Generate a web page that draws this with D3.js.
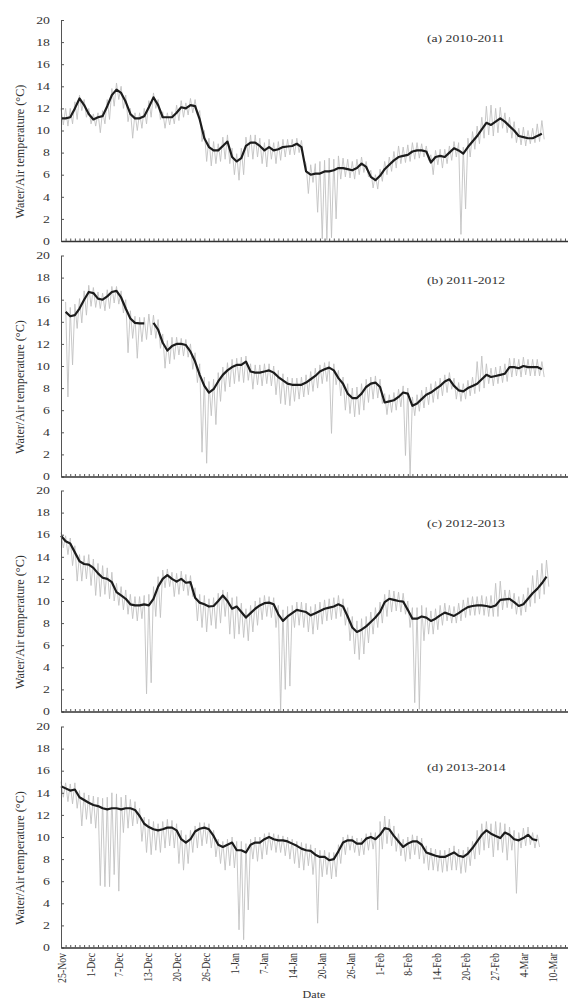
<!DOCTYPE html>
<html>
<head>
<meta charset="utf-8">
<script src="https://cdn.jsdelivr.net/npm/d3@7"></script>
<style>
  html, body { margin: 0; padding: 0; background: #fff; }
  svg { display: block; }
  text { font-family: "Liberation Serif", "DejaVu Serif", serif; fill: #333; }
</style>
</head>
<body>
<svg id="chart" width="568" height="999"></svg>
<script>
// Axis labels and panel titles
const tickLabels = ["25-Nov", "1-Dec", "7-Dec", "13-Dec", "20-Dec", "26-Dec", "1-Jan", "7-Jan",
  "14-Jan", "20-Jan", "26-Jan", "1-Feb", "8-Feb", "14-Feb", "20-Feb", "27-Feb", "4-Mar", "10-Mar"];
const labelStepDays = 6.25;          // one date label every 150 hours
const yTicks = [0, 2, 4, 6, 8, 10, 12, 14, 16, 18, 20];
const panelTitles = ["(a) 2010-2011", "(b) 2011-2012", "(c) 2012-2013", "(d) 2013-2014"];

// Daily water temperature (°C), day 0 = 25 Nov
const waterA = [11.1, 11.1, 11.2, 12.0, 12.9, 12.3, 11.5, 11.0, 11.2, 11.3, 12.2, 13.2, 13.7, 13.4, 12.6, 11.5,
  11.1, 11.1, 11.3, 12.1, 13.0, 12.3, 11.2, 11.2, 11.2, 11.6, 12.1, 12.0, 12.3, 12.2, 11.0, 9.3, 8.5, 8.2, 8.2,
  8.6, 9.0, 7.6, 7.2, 7.5, 8.6, 8.9, 8.9, 8.6, 8.2, 8.5, 8.2, 8.3, 8.5, 8.55, 8.6, 8.8, 8.5, 6.3, 6.0, 6.1, 6.1,
  6.3, 6.3, 6.4, 6.6, 6.6, 6.5, 6.4, 6.6, 7.0, 6.7, 5.8, 5.5, 5.9, 6.5, 6.9, 7.3, 7.6, 7.7, 7.8, 8.1, 8.2, 8.2,
  8.1, 7.1, 7.6, 7.7, 7.6, 8.0, 8.4, 8.2, 7.9, 8.5, 9.0, 9.5, 10.1, 10.7, 10.5, 10.8, 11.1, 10.8, 10.4, 10.0,
  9.5, 9.4, 9.3, 9.3, 9.5, 9.7];
const waterB = [null, 14.9, 14.5, 14.6, 15.2, 16.0, 16.7, 16.6, 16.1, 16.0, 16.3, 16.7, 16.8, 16.2, 15.2, 14.3,
  13.9, 13.85, 13.85, null, 13.9, 13.3, 12.1, 11.4, 11.8, 12.0, 12.0, 11.9, 11.3, 10.4, 9.2, 8.2, 7.6, 7.9, 8.6,
  9.2, 9.6, 9.9, 10.1, 10.1, 10.4, 9.5, 9.4, 9.4, 9.5, 9.6, 9.4, 9.0, 8.7, 8.4, 8.3, 8.3, 8.3, 8.5, 8.8, 9.1,
  9.5, 9.7, 9.85, 9.6, 8.9, 8.4, 7.5, 7.1, 7.1, 7.5, 8.1, 8.4, 8.5, 8.1, 6.7, 6.8, 6.9, 7.2, 7.6, 7.5, 6.4, 6.6,
  7.0, 7.4, 7.6, 7.9, 8.2, 8.6, 8.8, 8.2, 7.8, 7.7, 8.0, 8.2, 8.4, 8.8, 9.2, 9.0, 9.1, 9.2, 9.3, 9.9, 9.9, 9.8,
  10.0, 9.9, 9.9, 9.9, 9.7];
const waterC = [15.9, 15.4, 15.2, 14.4, 13.6, 13.35, 13.3, 13.0, 12.5, 12.1, 12.0, 11.7, 10.8, 10.5, 10.2, 9.7,
  9.6, 9.6, 9.7, 9.6, 10.2, 11.3, 12.0, 12.35, 12.0, 11.75, 12.0, 11.65, 11.7, 10.3, 9.85, 9.7, 9.5, 9.55, 10.0,
  10.5, 10.0, 9.3, 9.5, 9.0, 8.5, 8.9, 9.3, 9.6, 9.8, 9.85, 9.7, 8.8, 8.2, 8.6, 8.9, 9.2, 9.1, 9.0, 8.7, 8.9,
  9.1, 9.3, 9.4, 9.5, 9.7, 9.5, 8.6, 7.6, 7.2, 7.4, 7.7, 8.1, 8.5, 9.0, 9.9, 10.2, 10.1, 10.0, 9.95, 9.2, 8.4,
  8.4, 8.6, 8.5, 8.2, 8.4, 8.7, 8.95, 8.8, 8.65, 8.9, 9.2, 9.45, 9.55, 9.6, 9.6, 9.55, 9.45, 9.6, 10.1, 10.15,
  10.2, 9.9, 9.55, 9.7, 10.2, 10.7, 11.1, 11.6, 12.2];
const waterD = [14.6, 14.4, 14.2, 14.3, 13.6, 13.35, 13.1, 12.9, 12.8, 12.6, 12.5, 12.6, 12.6, 12.5, 12.6, 12.6,
  12.45, 11.9, 11.2, 10.9, 10.7, 10.6, 10.7, 10.85, 10.85, 10.6, 9.8, 9.5, 9.8, 10.5, 10.75, 10.85, 10.7, 10.1,
  9.3, 9.1, 9.3, 9.5, 8.8, 8.8, 8.6, 9.3, 9.5, 9.5, 9.8, 10.0, 9.8, 9.7, 9.7, 9.6, 9.4, 9.2, 8.95, 8.8, 8.75,
  8.4, 8.2, 8.2, 7.9, 8.0, 8.7, 9.5, 9.7, 9.7, 9.4, 9.4, 9.85, 10.0, 9.8, 10.2, 10.8, 10.7, 10.1, 9.6, 9.1, 9.4,
  9.6, 9.6, 9.3, 8.6, 8.45, 8.3, 8.2, 8.2, 8.4, 8.6, 8.3, 8.2, 8.5, 9.0, 9.6, 10.2, 10.6, 10.3, 10.1, 9.9, 10.4,
  10.2, 9.8, 9.7, 9.9, 10.2, 9.8, 9.7];

// Daily air temperature range (°C): daily high and daily low
const airHiA = [12.0, 12.0, 12.0, 12.6, 13.2, 12.8, 12.0, 11.5, 11.6, 11.8, 12.8, 13.8, 14.3, 14.0, 13.2, 12.0,
  11.6, 11.6, 12.0, 12.7, 13.4, 12.8, 11.7, 11.6, 11.7, 12.3, 12.7, 12.5, 12.9, 12.8, 11.8, 10.0, 9.3, 9.0, 8.8,
  9.4, 9.6, 8.4, 7.9, 8.4, 9.4, 9.6, 9.6, 9.3, 8.9, 9.2, 8.9, 9.0, 9.2, 9.2, 9.2, 9.3, 9.1, 7.0, 6.9, 7.0, 7.2,
  7.3, 7.5, 7.4, 7.7, 7.5, 7.4, 7.2, 7.4, 7.6, 7.2, 6.4, 6.0, 6.5, 7.2, 7.6, 8.1, 8.6, 8.5, 8.7, 8.9, 8.9, 8.8,
  8.6, 7.8, 8.2, 8.3, 8.3, 8.6, 9.0, 8.9, 8.5, 9.3, 9.9, 10.4, 11.2, 12.2, 12.3, 12.0, 12.1, 11.6, 11.2, 10.8,
  10.2, 10.3, 10.0, 10.2, 10.6, 10.9];
const airLoA = [10.5, 10.4, 10.6, 11.0, 11.8, 11.2, 10.6, 10.4, 9.8, 10.6, 11.0, 12.2, 12.8, 12.0, 10.8, 9.3,
  10.0, 10.2, 10.6, 11.2, 12.0, 11.0, 10.2, 10.5, 10.6, 10.9, 11.2, 11.4, 11.6, 11.4, 9.0, 7.2, 6.8, 7.0, 7.2,
  7.4, 7.0, 6.0, 5.5, 6.0, 7.6, 7.4, 7.6, 7.0, 6.7, 7.4, 7.0, 7.3, 7.6, 7.8, 7.8, 8.0, 7.4, 4.3, 5.3, 2.6, 0.2,
  0.1, 0.3, 2.0, 5.6, 5.8, 5.7, 5.6, 6.0, 6.2, 5.8, 4.8, 4.7, 5.4, 6.0, 6.3, 6.6, 7.0, 7.1, 7.2, 7.4, 7.5, 7.6,
  7.3, 6.0, 6.9, 6.6, 7.0, 7.3, 7.6, 0.6, 2.9, 7.6, 8.3, 8.8, 9.3, 9.6, 9.5, 9.8, 10.2, 9.8, 9.3, 8.9, 8.7, 8.6,
  8.8, 8.9, 9.0, 9.2];
const airHiB = [null, 15.8, 15.3, 15.6, 16.1, 16.8, 17.3, 17.1, 16.7, 16.6, 16.9, 17.2, 17.2, 16.8, 16.0, 15.0,
  14.5, 14.4, 14.4, 14.7, 14.6, 14.2, 12.9, 12.3, 12.6, 12.6, 12.5, 12.4, 12.0, 11.2, 10.2, 9.0, 8.6, 8.8, 9.4,
  9.9, 10.3, 10.6, 10.7, 10.8, 10.9, 10.2, 10.1, 10.1, 10.2, 10.2, 10.0, 9.6, 9.3, 9.0, 8.9, 8.9, 9.0, 9.2, 9.5,
  9.8, 10.1, 10.3, 10.4, 10.2, 9.6, 9.0, 8.4, 8.0, 8.1, 8.4, 8.8, 9.0, 9.1, 8.8, 7.5, 7.4, 7.6, 7.9, 8.2, 8.0,
  7.2, 7.4, 7.8, 8.1, 8.4, 8.6, 8.9, 9.2, 9.4, 8.9, 8.5, 8.4, 8.7, 9.0, 10.4, 10.9, 10.2, 9.8, 9.9, 10.0, 10.2,
  10.7, 10.7, 10.6, 10.8, 10.6, 10.6, 10.6, 10.4];
const airLoB = [null, 7.2, 10.1, 13.4, 13.9, 14.6, 15.4, 15.3, 15.2, 15.0, 15.2, 15.7, 15.6, 14.8, 11.2, 12.5,
  10.7, 12.2, 12.4, 12.8, 12.5, 11.6, 9.8, 10.2, 10.6, 11.0, 10.9, 10.8, 9.7, 8.5, 2.2, 1.2, 5.5, 4.7, 6.8, 7.7,
  8.1, 8.4, 8.6, 8.5, 8.7, 7.9, 8.3, 8.2, 8.4, 8.2, 7.4, 6.6, 6.5, 6.4, 6.8, 7.0, 7.2, 7.4, 7.7, 8.0, 8.4, 8.6,
  3.9, 8.3, 7.3, 6.0, 5.7, 5.4, 5.6, 6.0, 6.7, 7.0, 7.1, 6.6, 5.6, 5.8, 6.0, 6.3, 1.9, 0.0, 5.5, 5.9, 6.2, 6.5,
  6.7, 7.0, 7.3, 7.6, 7.9, 7.0, 6.8, 7.0, 7.3, 7.5, 7.7, 8.0, 8.4, 8.2, 8.4, 8.5, 8.6, 9.0, 9.1, 9.0, 9.2, 9.1,
  9.1, 9.1, 9.0];
const airHiC = [16.2, 15.9, 15.7, 15.0, 14.2, 14.1, 14.2, 13.8, 13.4, 13.2, 13.0, 12.6, 11.6, 11.3, 11.0, 10.6,
  10.4, 10.4, 10.5, 10.6, 11.3, 12.2, 12.8, 12.9, 12.6, 12.5, 12.7, 12.4, 12.3, 11.2, 10.6, 10.5, 10.2, 10.3,
  10.7, 11.0, 10.8, 10.3, 10.4, 9.8, 9.3, 9.6, 10.0, 10.3, 10.5, 10.4, 10.3, 9.6, 9.2, 9.5, 9.6, 9.9, 9.9, 9.8,
  9.5, 9.7, 9.9, 10.1, 10.2, 10.3, 10.5, 10.2, 9.4, 8.6, 8.2, 8.4, 8.6, 9.0, 9.4, 9.9, 10.6, 11.0, 10.9, 10.8,
  10.7, 10.0, 9.4, 9.4, 9.6, 9.4, 9.1, 9.3, 9.6, 9.8, 9.6, 9.5, 9.8, 10.1, 10.3, 10.4, 10.4, 10.5, 10.4, 10.5,
  11.6, 11.8, 11.0, 11.0, 10.7, 10.4, 10.6, 11.2, 12.3, 12.8, 13.4, 13.7];
const airLoC = [14.8, 14.2, 13.2, 11.8, 11.8, 12.0, 11.4, 10.5, 10.4, 10.6, 10.2, 10.0, 9.6, 9.2, 8.8, 8.4, 8.2,
  8.4, 1.6, 2.6, 8.6, 8.5, 11.2, 11.3, 10.4, 10.6, 10.9, 10.5, 10.4, 8.2, 7.6, 7.2, 7.8, 7.5, 8.0, 8.6, 7.0, 6.6,
  7.0, 6.7, 6.4, 7.2, 7.8, 8.3, 8.6, 8.5, 7.6, 0.0, 2.0, 2.3, 7.6, 7.8, 7.6, 7.2, 7.0, 7.4, 7.9, 8.2, 8.3, 8.4,
  8.6, 7.8, 6.4, 5.2, 4.7, 5.2, 6.2, 7.0, 7.6, 8.0, 8.6, 9.0, 9.1, 9.0, 8.8, 7.6, 0.8, 0.2, 6.4, 7.0, 7.0, 7.4,
  7.8, 8.2, 8.0, 8.0, 8.2, 8.5, 8.7, 8.7, 8.8, 8.7, 8.6, 8.6, 8.6, 9.2, 9.4, 9.3, 8.8, 8.7, 9.0, 9.5, 9.8, 10.2,
  10.6, 11.3];
const airHiD = [15.0, 14.9, 14.8, 14.9, 14.2, 14.0, 13.8, 13.7, 13.6, 13.5, 13.6, 14.0, 13.9, 13.6, 13.8, 13.4,
  13.2, 12.6, 11.8, 11.6, 11.4, 11.2, 11.4, 11.6, 11.5, 11.2, 10.6, 10.2, 10.6, 11.0, 11.3, 11.3, 11.2, 10.6,
  9.8, 9.6, 9.8, 10.0, 9.6, 9.6, 9.4, 9.8, 10.0, 10.0, 10.3, 10.4, 10.3, 10.2, 10.1, 10.0, 9.8, 9.6, 9.5, 9.4,
  9.3, 9.0, 8.8, 8.8, 8.6, 8.6, 9.3, 10.0, 10.2, 10.1, 9.9, 9.9, 10.3, 10.4, 10.4, 11.4, 11.9, 11.6, 11.0, 10.3,
  9.8, 10.0, 10.2, 10.1, 9.9, 9.2, 9.0, 8.9, 8.8, 8.8, 9.0, 9.2, 8.9, 8.8, 9.1, 9.6, 10.6, 11.2, 11.4, 11.2,
  11.4, 11.3, 11.2, 10.9, 10.6, 10.4, 10.8, 10.9, 10.4, 10.2];
const airLoD = [13.6, 13.2, 13.0, 12.6, 11.0, 11.6, 11.2, 10.8, 5.6, 5.5, 5.5, 6.6, 5.1, 10.4, 10.8, 11.0, 11.2,
  9.6, 8.6, 8.4, 8.8, 8.6, 9.0, 9.2, 9.0, 7.6, 7.0, 7.6, 8.6, 9.0, 9.2, 9.4, 9.0, 8.2, 7.6, 7.0, 7.4, 7.2, 1.6,
  0.7, 3.4, 8.0, 7.8, 8.0, 8.4, 8.8, 8.6, 8.6, 8.3, 8.0, 7.6, 7.2, 7.0, 7.4, 6.6, 2.2, 6.4, 6.6, 6.2, 6.4, 7.6,
  8.4, 8.8, 8.6, 8.3, 8.4, 8.8, 8.9, 3.4, 8.9, 9.4, 9.2, 8.7, 8.3, 7.8, 8.0, 8.4, 8.0, 7.6, 7.0, 7.0, 6.9, 6.8,
  6.9, 7.0, 7.0, 6.7, 6.8, 7.4, 8.0, 8.4, 8.8, 9.0, 8.2, 8.8, 8.6, 7.9, 8.8, 4.9, 9.0, 9.2, 9.3, 9.0, 9.1];

const panels = [
  { title: panelTitles[0], water: waterA, airHi: airHiA, airLo: airLoA },
  { title: panelTitles[1], water: waterB, airHi: airHiB, airLo: airLoB },
  { title: panelTitles[2], water: waterC, airHi: airHiC, airLo: airLoC },
  { title: panelTitles[3], water: waterD, airHi: airHiD, airLo: airLoD }
];

// Layout
const svg = d3.select("#chart");
const plotLeft = 61, plotRight = 568;
const panelTop = [20, 255.5, 490.5, 726.5];
const plotH = 221;
const titleBaseline = [21.7, 28.8, 36.2, 44.2];   // panel title baseline below the plot top
const hStretch = 1.35;                             // horizontal text stretch of the figure

const x = d3.scaleLinear().domain([0, 109.65]).range([plotLeft, plotRight]);
const dayTicks = d3.range(0, 110, 1);
const labelDays = tickLabels.map((_, i) => i * labelStepDays);

panels.forEach((p, pi) => {
  const top = panelTop[pi];
  const y = d3.scaleLinear().domain([0, 20]).range([top + plotH, top]);
  const g = svg.append("g");

  // air temperature: daily high / low trace
  const airPts = [];
  p.airHi.forEach((hi, i) => {
    if (hi == null) return;
    airPts.push([i, hi]);
    airPts.push([i + 0.5, p.airLo[i]]);
  });
  g.append("path")
    .datum(airPts)
    .attr("fill", "none")
    .attr("stroke", "#c2c2c2")
    .attr("stroke-width", 0.9)
    .attr("d", d3.line().x(d => x(d[0])).y(d => y(d[1])));

  // water temperature
  g.append("path")
    .datum(p.water)
    .attr("fill", "none")
    .attr("stroke", "#1c1c1c")
    .attr("stroke-width", 2.2)
    .attr("stroke-linejoin", "round")
    .attr("d", d3.line().defined(d => d != null).x((d, i) => x(i)).y(d => y(d)));

  // y axis
  const ya = g.append("g")
    .attr("transform", `translate(${plotLeft},0)`)
    .call(d3.axisLeft(y).tickValues(yTicks).tickSizeInner(-3).tickSizeOuter(0).tickPadding(11));
  ya.select(".domain").attr("stroke", "#555").attr("stroke-width", 1);
  ya.selectAll(".tick line").attr("stroke", "#555");
  ya.selectAll(".tick text")
    .attr("font-size", 10.2)
    .attr("fill", "#444")
    .attr("transform", function () {
      const tx = +d3.select(this).attr("x");
      return `translate(${tx},0) scale(${hStretch},1)`;
    })
    .attr("x", 0)
    .style("font-family", "'Liberation Serif', serif");

  // x axis with daily ticks
  const xa = g.append("g")
    .attr("transform", `translate(0,${top + plotH})`)
    .call(d3.axisBottom(x).tickValues(dayTicks).tickSizeInner(-2.5).tickSizeOuter(0).tickFormat(""));
  xa.select(".domain").attr("stroke", "#333").attr("stroke-width", 1.3);
  xa.selectAll(".tick line").attr("stroke", "#555");

  // date labels on the bottom panel
  if (pi === panels.length - 1) {
    const lg = g.append("g").attr("transform", `translate(0,${top + plotH})`);
    lg.selectAll("text")
      .data(labelDays)
      .join("text")
      .attr("transform", d => `translate(${x(d)},5.5) scale(${hStretch},1) rotate(-90)`)
      .attr("text-anchor", "end")
      .attr("dy", "0.35em")
      .attr("font-size", 9.8)
      .attr("fill", "#444")
      .text((d, i) => tickLabels[i]);
  }

  // y axis title
  const midY = top + plotH / 2 + 21;
  g.append("text")
    .attr("transform", `translate(19.5,${midY}) rotate(-90)`)
    .attr("text-anchor", "middle")
    .attr("dy", "0.35em")
    .attr("font-size", 12.2)
    .attr("fill", "#444")
    .text("Water/Air temperature (°C)");

  // panel title
  g.append("text")
    .attr("transform", `translate(427,${top + titleBaseline[pi]}) scale(1.2,1)`)
    .attr("font-size", 11.4)
    .attr("fill", "#333")
    .text(p.title);
});

// x axis title
svg.append("text")
  .attr("transform", `translate(314,997.5) scale(1.1,1)`)
  .attr("text-anchor", "middle")
  .attr("font-size", 11)
  .attr("fill", "#444")
  .text("Date");
</script>
</body>
</html>
